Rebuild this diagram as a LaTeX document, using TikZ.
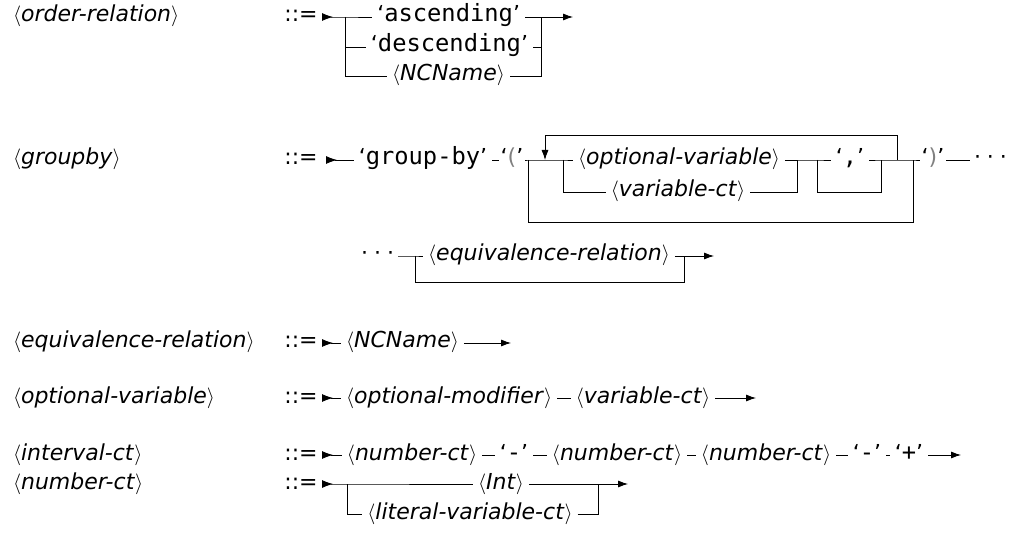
\documentclass[tikz,border=0pt]{standalone}
\usepackage{fontspec}
\setmainfont{DejaVu Sans}
\setmonofont[Scale=1.08]{DejaVu Sans Mono}
\usetikzlibrary{arrows.meta,positioning}
\newcommand{\ntm}[1]{$\langle$\textit{#1}$\rangle$}
\newcommand{\tmq}[1]{‘\texttt{#1}’}
\newcommand{\dotsrail}{·\kern6pt·\kern6pt·}
\begin{document}
\begin{tikzpicture}[x=1pt,y=-1pt,
  every node/.style={font=\fontsize{22}{26}\selectfont, inner sep=0pt, outer xsep=5pt, text height=15pt, text depth=5pt},
  every path/.style={line width=0.8pt},
  endarr/.style={-{Latex[length=10pt,width=7pt]}},
  startarr/.style={{Latex[length=11pt,width=8pt,reversed]}-},
  lbl/.style={anchor=west, outer xsep=0pt}]
\useasboundingbox (0,0) rectangle (1010,545);

% ---------- row 1: order-relation
\node[lbl] (l1) at (13,17) {\ntm{order-relation}};
\node (d1) at (301,17) {::=};
\coordinate (s1) at (322,17);
\coordinate (a1) at (345,17);
\coordinate (a1d) at (345,47);
\coordinate (a1n) at (345,76);
\node[anchor=east] (asc) at (525,17) {\tmq{ascending}};
\node[anchor=east] (desc) at (533,47) {\tmq{descending}};
\node[anchor=east] (nc1) at (510,76) {\ntm{NCName}};
\coordinate (b1) at (541,17);
\coordinate (b1d) at (541,47);
\coordinate (b1n) at (541,76);
\coordinate (e1) at (573,17);
\draw[startarr] (s1) -- (a1) -- (asc.west);
\draw (a1) -- (a1n) -- (nc1.west);
\draw (a1d) -- (desc.west);
\draw (asc.east) -- (b1);
\draw (desc.east) -- (b1d);
\draw (nc1.east) -- (b1n) -- (b1);
\draw[endarr] (b1) -- (e1);

% ---------- row 2: groupby
\node[lbl] (l2) at (13,160) {\ntm{groupby}};
\node (d2) at (301,160) {::=};
\coordinate (s2) at (326,160);
\node (gb) at (423,160) {\tmq{group-by}};
\node[outer xsep=2pt] (lp) at (512,160) {‘{\color{gray}(}’};
\coordinate (jb1) at (528,160);
\coordinate (jb1d) at (528,222);
\coordinate (jl) at (545,160);
\coordinate (jlt) at (545,135);
\coordinate (ja1) at (563,160);
\coordinate (ja1d) at (563,192);
\node (ov) at (679,160) {\ntm{optional-variable}};
\node (vc) at (678,192) {\ntm{variable-ct}};
\coordinate (ja2) at (797,160);
\coordinate (ja2d) at (797,192);
\coordinate (js1) at (817,160);
\coordinate (js1d) at (817,192);
\node (cm) at (850,160) {\tmq{,}};
\coordinate (js2) at (881,160);
\coordinate (js2d) at (881,192);
\coordinate (jl2) at (897,160);
\coordinate (jl2t) at (897,135);
\coordinate (jb2) at (913,160);
\coordinate (jb2d) at (913,222);
\node[outer xsep=2pt] (rp) at (933,160) {‘{\color{gray})}’};
\node[anchor=west, outer xsep=4pt] (dt1) at (970,160) {\dotsrail};
\draw[startarr] (s2) -- (gb.west);
\draw (gb.east) -- (lp.west);
\draw (lp.east) -- (jb1) -- (ja1) -- (ov.west);
\draw (ja1) -- (ja1d) -- (vc.west);
\draw (ov.east) -- (ja2);
\draw (vc.east) -- (ja2d) -- (ja2);
\draw (ja2) -- (js1) -- (cm.west);
\draw (js1) -- (js1d) -- (js2d) -- (js2);
\draw (cm.east) -- (js2) -- (jl2) -- (jb2) -- (rp.west);
\draw[endarr] (jl2) -- (jl2t) -- (jlt) -- (jl);
\draw (jb1) -- (jb1d) -- (jb2d) -- (jb2);
\draw (rp.east) -- (dt1.west);

% ---------- row 2b
\node[anchor=east, outer xsep=4pt] (dt2) at (398,256) {\dotsrail};
\coordinate (je1) at (415,256);
\coordinate (je1d) at (415,282);
\node (eq) at (549,256) {\ntm{equivalence-relation}};
\coordinate (je2) at (684,256);
\coordinate (je2d) at (684,282);
\coordinate (e2) at (714,256);
\draw (dt2.east) -- (je1) -- (eq.west);
\draw (je1) -- (je1d) -- (je2d) -- (je2);
\draw (eq.east) -- (je2);
\draw[endarr] (je2) -- (e2);

% ---------- row 3: equivalence-relation
\node[lbl] (l3) at (13,343) {\ntm{equivalence-relation}};
\node (d3) at (301,343) {::=};
\coordinate (s3) at (322,343);
\node[anchor=west] (nc3) at (341,343) {\ntm{NCName}};
\coordinate (e3) at (511,343);
\draw[startarr] (s3) -- (nc3.west);
\draw[endarr] (nc3.east) -- (e3);

% ---------- row 4: optional-variable
\node[lbl] (l4) at (13,398) {\ntm{optional-variable}};
\node (d4) at (301,398) {::=};
\coordinate (s4) at (322,398);
\node[anchor=west] (om) at (341,398) {\ntm{optional-modifier}};
\node (vc4) at (643,398) {\ntm{variable-ct}};
\coordinate (e4) at (756,398);
\draw[startarr] (s4) -- (om.west);
\draw (om.east) -- (vc4.west);
\draw[endarr] (vc4.east) -- (e4);

% ---------- row 5: interval-ct
\node[lbl] (l5) at (13,455) {\ntm{interval-ct}};
\node (d5) at (301,455) {::=};
\coordinate (s5) at (322,455);
\node (n1) at (412,455) {\ntm{number-ct}};
\node (q1) at (514,455) {\tmq{-}};
\node (n2) at (617,455) {\ntm{number-ct}};
\node (n3) at (766,455) {\ntm{number-ct}};
\node (q2) at (867,455) {\tmq{-}};
\node (q3) at (909,455) {\tmq{+}};
\coordinate (e5) at (961,455);
\draw[startarr] (s5) -- (n1.west);
\draw (n1.east) -- (q1.west);
\draw (q1.east) -- (n2.west);
\draw (n2.east) -- (n3.west);
\draw (n3.east) -- (q2.west);
\draw (q2.east) -- (q3.west);
\draw[endarr] (q3.east) -- (e5);

% ---------- row 6: number-ct
\node[lbl] (l6) at (13,484) {\ntm{number-ct}};
\node (d6) at (301,484) {::=};
\coordinate (s6) at (322,484);
\coordinate (j6) at (347,484);
\coordinate (j6d) at (347,514);
\node (int) at (501,484) {\ntm{Int}};
\node (lit) at (470,514) {\ntm{literal-variable-ct}};
\coordinate (r6) at (598,484);
\coordinate (r6d) at (598,514);
\coordinate (e6) at (628,484);
\draw[startarr] (s6) -- (j6) -- (int.west);
\draw (j6) -- (j6d) -- (lit.west);
\draw (int.east) -- (r6);
\draw (lit.east) -- (r6d) -- (r6);
\draw[endarr] (r6) -- (e6);
\end{tikzpicture}
\end{document}
